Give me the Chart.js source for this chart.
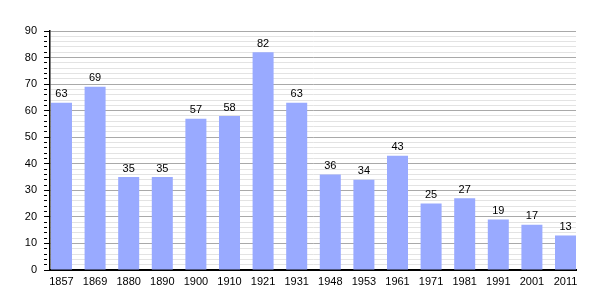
<!DOCTYPE html>
<html>
<head>
<meta charset="utf-8">
<script src="https://cdn.jsdelivr.net/npm/chart.js@4"></script>
<style>
  html, body { margin: 0; padding: 0; background: #fff; }
  #wrap { width: 605px; height: 300px; }
</style>
</head>
<body>
<div id="wrap"><canvas id="c" width="605" height="300"></canvas></div>
<script>
const years = ['1857','1869','1880','1890','1900','1910','1921','1931','1948','1953','1961','1971','1981','1991','2001','2011'];
const population = [63, 69, 35, 35, 57, 58, 82, 63, 36, 34, 43, 25, 27, 19, 17, 13];
const yTickLabels = [0, 10, 20, 30, 40, 50, 60, 70, 80, 90];

const FONT = '"Liberation Sans", Arial, sans-serif';

const valueLabels = {
  id: 'valueLabels',
  afterDatasetsDraw(chart) {
    const ctx = chart.ctx;
    const meta = chart.getDatasetMeta(0);
    ctx.save();
    ctx.font = '11px ' + FONT;
    ctx.fillStyle = '#000';
    ctx.textAlign = 'center';
    ctx.textBaseline = 'bottom';
    meta.data.forEach((bar, i) => {
      ctx.fillText(String(population[i]), bar.x, bar.y - 3);
    });
    ctx.restore();
  }
};

new Chart(document.getElementById('c'), {
  type: 'bar',
  data: {
    datasets: [{
      data: population.map((v, i) => ({ x: i, y: v })),
      backgroundColor: 'rgb(153,170,255)',
      borderWidth: 0,
      categoryPercentage: 0.625,
      barPercentage: 1
    }]
  },
  options: {
    responsive: false,
    animation: false,
    events: [],
    layout: { padding: { top: 31, right: 29, left: 0, bottom: 0 } },
    plugins: { legend: { display: false }, tooltip: { enabled: false } },
    scales: {
      x: {
        type: 'linear',
        offset: false,
        min: -0.342,
        max: 15.3125,
        afterBuildTicks: (scale) => { scale.ticks = years.map((_, i) => ({ value: i })); },
        afterFit: (scale) => { scale.height = 30; },
        grid: { display: true, offset: false, drawOnChartArea: false, drawTicks: false },
        border: { display: true, color: '#000', width: 2 },
        ticks: {
          autoSkip: false,
          maxRotation: 0,
          padding: 5,
          color: '#000',
          font: { family: FONT, size: 11 },
          callback: (v) => years[v] ?? ''
        }
      },
      y: {
        min: 0,
        max: 90,
        afterFit: (scale) => { scale.width = 50; },
        grid: {
          color: (c) => (c.tick && c.tick.value % 10 === 0) ? '#a9a9a9' : '#e3e3e3',
          tickColor: '#000',
          tickLength: 6,
          tickBorderDash: (c) => (c.tick && c.tick.value % 10 === 0) ? [] : [3, 20]
        },
        border: { display: true, color: '#000', width: 1.5 },
        ticks: {
          stepSize: 2,
          autoSkip: false,
          padding: 7,
          color: '#000',
          font: { family: FONT, size: 11 },
          callback: (v) => yTickLabels.includes(v) ? String(v) : ''
        }
      }
    }
  },
  plugins: [valueLabels]
});
</script>
</body>
</html>
